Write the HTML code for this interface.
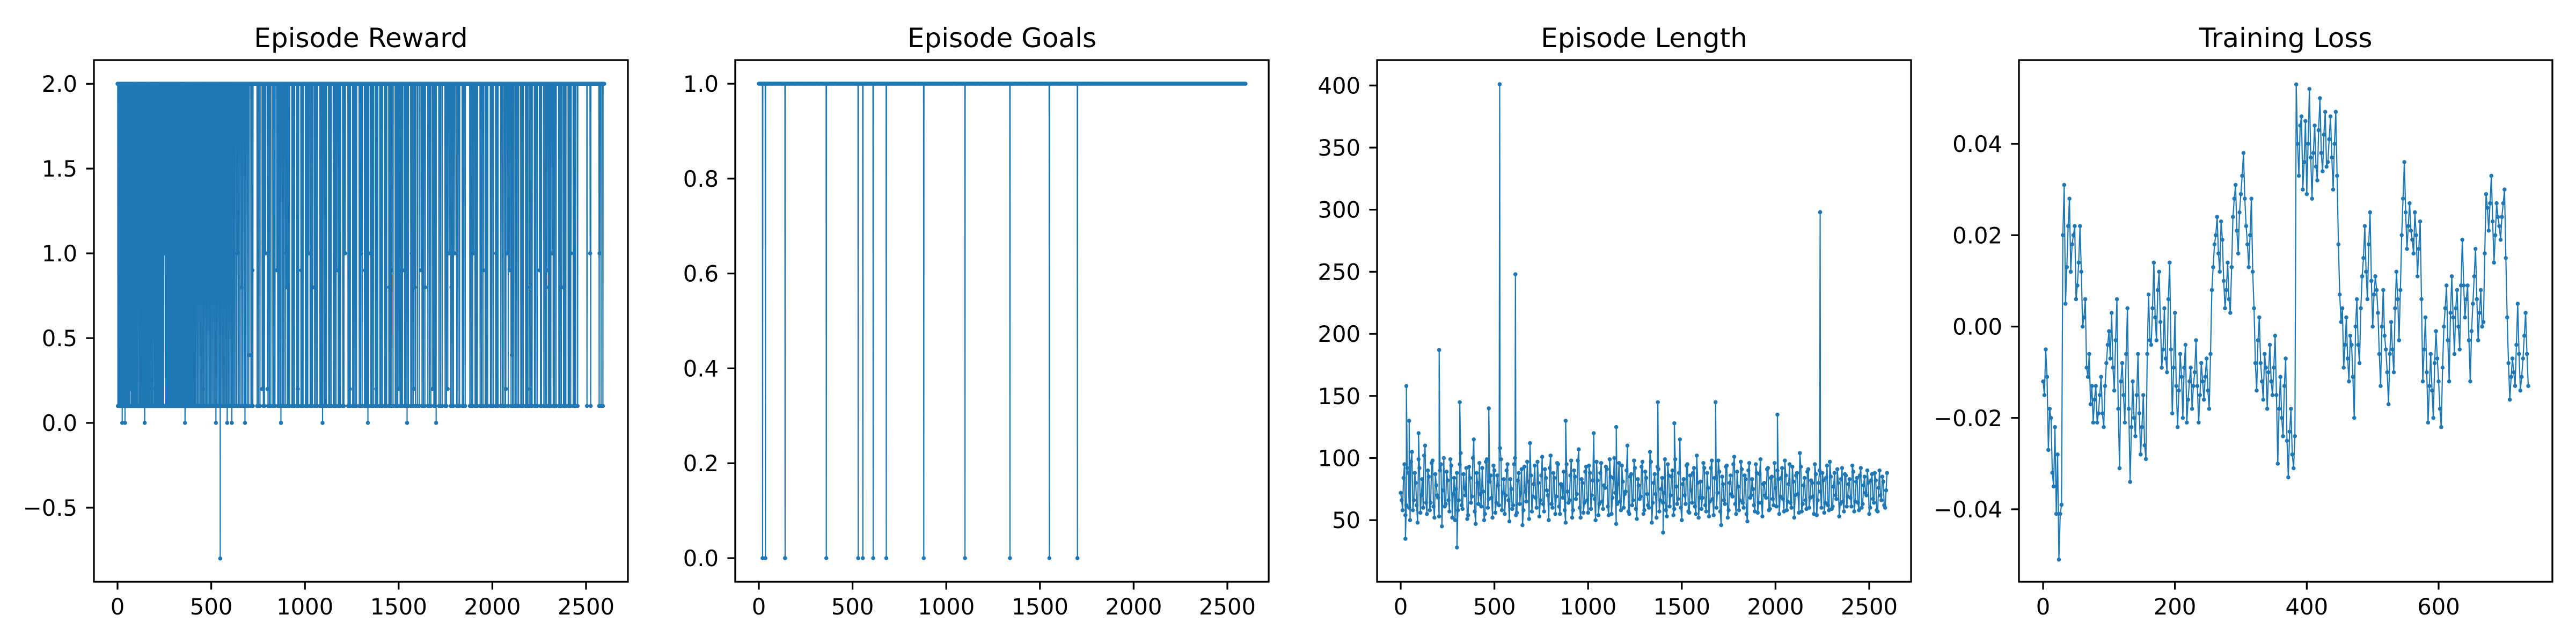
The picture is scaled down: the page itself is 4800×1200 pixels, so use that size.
<!DOCTYPE html>
<html><head><meta charset="utf-8"><style>
html,body{margin:0;padding:0;background:#fff;}
svg{display:block;}
text{font-family:"DejaVu Sans","Liberation Sans",sans-serif;fill:#000;}
</style></head><body>
<svg id="fig" width="4800" height="1200" viewBox="0 0 4800 1200" xmlns="http://www.w3.org/2000/svg"></svg>
<script>
// ===== Data =====
const rewardEpisodes = 2598;
const rewardDips = [2,7,11,15,19,22,27,31,34,38,42,46,50,54,57,61,65,70,73,77,81,86,90,94,97,101,106,110,113,117,121,125,129,133,137,140,144,148,152,156,160,163,167,171,175,179,183,187,190,194,198,202,207,211,215,219,224,228,232,237,241,246,250,255,260,265,270,274,279,284,289,293,298,303,308,313,318,322,327,331,336,341,346,351,356,361,366,372,378,384,390,396,402,408,414,420,427,434,441,448,455,461,468,475,482,489,495,502,509,516,523,530,537,544,551,558,565,572,579,586,593,600,607,614,621,628,636,644,652,660,668,676,684,692,700,712,722,745,760,778,790,803,818,829,840,855,868,880,895,906,918,931,944,957,966,979,990,1003,1015,1028,1040,1052,1066,1080,1090,1102,1115,1127,1140,1152,1166,1178,1190,1202,1215,1230,1242,1255,1268,1275,1290,1305,1318,1330,1340,1352,1365,1376,1388,1400,1413,1425,1436,1448,1460,1470,1482,1495,1508,1520,1532,1545,1552,1565,1578,1590,1610,1625,1640,1656,1672,1688,1700,1715,1732,1748,1762,1778,1792,1810,1825,1840,1855,1880,1895,1908,1920,1935,1950,1962,1975,1990,2005,2018,2030,2045,2062,2070,2085,2100,2108,2115,2125,2140,2152,2165,2178,2190,2200,2212,2225,2240,2252,2262,2275,2290,2300,2312,2325,2340,2355,2368,2380,2392,2405,2418,2432,2445,2455,2505,2525,2570,2580,2590];
const rewardDips2 = [717,752,784,810,834,861,887,912,937,961,984,1009,1034,1059,1085,1108,1133,1159,1184,1208,1236,1261,1297,1324,1358,1382,1406,1430,1454,1488,1514,1538,1571,1600,1632,1664,1694,1723,1755,1785,1817,1847,1887,1914,1942,1968,1997,2024,2053,2092,2132,2158,2184,2206,2232,2257,2282,2306,2332,2361,2386,2411,2438];
const rewardSpecialEp = [25,40,145,360,525,548,585,610,680,872,1094,1336,1545,1700, 45,110,250,340,400,470,640,790,900,1020,1215,1300,1350,1570,1770,1800,1900,2020,2080,2320,2420,2522,2572, 120,180,562,720,850,980,1170,1320,1462,1530,1620,1692,1952,2092,2252,2292, 70,150,200,404,458,772,800,962,1240,1380,1502,1582,1682,1762,2072,2188, 75,338,602,662,902,1050,1450,1586,1642,1782,2202,2288,2378, 702,2104,190];
const rewardSpecialVal = [0,0,0,0,0,-0.8,0,0,0,0,0,0,0,0, 1,1,1,1,1,1,1,1,1,1,1,1,1,1,1,1,1,1,1,1,1,1,1, 0.9,0.9,0.9,0.9,0.9,0.9,0.9,0.9,0.9,0.9,0.9,0.9,0.9,0.9,0.9,0.9, 0.2,0.2,0.2,0.2,0.2,0.2,0.2,0.2,0.2,0.2,0.2,0.2,0.2,0.2,0.2,0.2, 0.8,0.8,0.8,0.8,0.8,0.8,0.8,0.8,0.8,0.8,0.8,0.8,0.8, 0.4,0.4,0.5];
const goalEpisodes = 2598;
const goalZeros = [20,35,140,360,530,555,610,680,880,1100,1340,1550,1700];
const lengthStep = 10;
const lengthValues = [72,58,95,62,88,50,105,66,80,48,92,70,60,110,55,85,64,98,52,78,
68,90,45,100,63,82,57,94,71,50,88,66,104,59,76,92,54,84,69,115,
47,80,96,61,73,55,99,67,86,52,90,64,78,108,58,83,70,95,49,75,
62,100,56,88,72,46,93,65,81,112,57,79,68,97,53,86,63,91,74,50,
102,60,84,69,95,55,77,89,48,73,66,98,58,85,71,107,52,80,64,93,
56,88,70,120,50,82,63,96,59,76,91,54,85,68,100,47,79,65,94,60,
73,110,55,87,66,92,51,78,69,97,58,84,62,105,48,80,71,93,57,75,
64,99,53,86,70,90,59,77,67,115,50,83,63,95,56,74,88,61,102,52,
81,68,92,57,76,65,98,54,84,72,89,46,79,63,94,58,86,69,101,55,
77,66,91,60,83,49,96,70,75,57,88,64,99,53,80,68,92,59,85,62,
76,90,55,84,67,98,58,79,64,93,52,86,71,104,57,78,66,89,60,82,
69,95,54,80,73,88,56,84,62,97,59,77,70,91,53,83,65,87,61,79,
68,94,57,81,64,86,60,78,72,90,55,82,67,88,58,76,70,85,62,74];
const lengthValuesMid = [66,84,54,92,60,97,58,88,62,99,56,83,102,64,90,58,96,61,87,70,
53,95,74,61,89,66,99,52,84,75,58,95,62,87,70,51,93,64,100,57,
88,63,71,92,50,97,60,81,68,94,56,86,62,99,72,55,90,66,83,59,
95,54,82,63,91,58,73,97,51,86,69,94,60,80,66,101,57,84,70,92,
63,88,55,96,61,79,68,58,95,64,86,52,90,67,98,60,83,56,89,66,
94,59,82,67,97,54,88,65,78,93,61,99,55,84,72,63,96,58,81,71,
90,57,85,62,98,59,83,67,93,55,89,71,60,97,64,87,52,91,66,84,
72,58,95,61,85,54,99,63,88,60,79,70,94,57,86,64,92,55,80,68,
59,96,62,88,53,92,67,84,60,98,57,85,66,93,52,80,71,95,63,89,
58,97,64,86,55,90,68,83,62,95,56,87,64,79,70,91,58,84,67,96,
61,83,69,92,57,86,65,95,60,81,70,88,56,93,63,84,59,91,68,80,
55,87,66,90,60,82,64,94,58,85,61,88,67,80,63,92,57,86,69,83,
61,89,65,84,58,92,63,85,70,80,60,87,64,82,57,90,66,81,60,88];
const lengthSpikeEp = [25,30,45,95,205,300,315,470,528,612,880,1150,1372,1400,1460,1680,2010,2238];
const lengthSpikeVal = [35,158,130,120,187,28,145,140,401,248,130,125,145,40,128,145,135,298];
const lossStep = 4;
const lossValues = [-0.012,-0.005,-0.027,-0.02,-0.035,-0.041,-0.051,-0.039,0.031,0.013,0.028,0.018,0.022,0.009,0.022,0.0,0.006,-0.011,-0.017,-0.021,
-0.013,-0.019,-0.011,-0.022,-0.008,-0.001,0.003,-0.014,0.006,-0.031,-0.008,-0.021,0.004,-0.034,-0.012,-0.024,-0.006,-0.028,-0.015,-0.029,
0.007,-0.004,0.014,-0.003,0.012,-0.009,0.004,-0.01,0.014,-0.019,0.003,-0.022,-0.006,-0.02,-0.004,-0.016,-0.009,-0.013,-0.003,-0.021,
-0.008,-0.016,-0.007,-0.018,0.008,0.018,0.024,0.012,0.019,0.004,0.014,0.003,0.024,0.031,0.016,0.029,0.038,0.022,0.013,0.028,
0.004,-0.014,0.002,-0.012,-0.006,-0.018,-0.004,-0.015,-0.002,-0.03,-0.011,-0.024,-0.007,-0.033,-0.018,-0.031,0.053,0.033,0.046,0.036,
0.029,0.052,0.028,0.044,0.032,0.05,0.034,0.047,0.036,0.046,0.03,0.047,0.018,0.001,-0.009,0.002,-0.012,-0.004,-0.02,0.006,
-0.008,0.011,0.022,0.006,0.025,0.0,0.011,0.003,-0.013,0.008,-0.005,-0.017,0.001,-0.01,0.012,-0.003,0.02,0.036,0.017,0.027,
0.019,0.025,0.011,0.023,-0.012,0.002,-0.021,-0.006,-0.02,-0.001,-0.012,-0.022,0.0,0.009,-0.012,0.011,-0.006,0.008,-0.005,0.019,
0.002,0.009,-0.012,0.005,0.017,-0.003,0.008,0.001,0.029,0.021,0.033,0.014,0.027,0.022,0.024,0.03,0.002,-0.016,-0.007,-0.013,
0.005,-0.014,-0.007,0.003,-0.013];
const lossValuesMid = [-0.015,-0.011,-0.018,-0.032,-0.022,-0.028,-0.041,0.02,0.005,0.022,0.012,0.02,0.006,0.014,0.012,0.002,-0.009,-0.006,-0.013,-0.016,
-0.021,-0.015,-0.019,-0.013,-0.004,-0.007,-0.009,-0.003,-0.018,-0.012,-0.015,-0.006,-0.018,-0.022,-0.02,-0.015,-0.019,-0.022,-0.026,-0.006,
-0.003,0.004,0.002,0.008,0.001,-0.005,-0.007,0.006,-0.005,-0.009,-0.013,-0.014,-0.011,-0.009,-0.021,-0.012,-0.018,-0.01,-0.013,-0.015,
-0.012,-0.011,-0.014,-0.006,0.013,0.02,0.016,0.023,0.01,0.008,0.006,0.013,0.028,0.021,0.025,0.033,0.028,0.018,0.02,0.012,
-0.008,-0.003,-0.008,-0.016,-0.009,-0.01,-0.012,-0.009,-0.015,-0.018,-0.02,-0.013,-0.025,-0.023,-0.028,-0.024,0.04,0.044,0.03,0.045,
0.04,0.037,0.038,0.035,0.043,0.038,0.042,0.035,0.041,0.037,0.04,0.033,0.007,0.004,-0.004,-0.007,-0.002,-0.011,0.0,-0.004,
0.004,0.015,0.012,0.018,0.01,0.007,0.008,-0.006,0.0,-0.002,-0.01,-0.006,-0.005,0.004,0.006,0.008,0.028,0.025,0.022,0.021,
0.016,0.02,0.017,0.006,-0.005,-0.01,-0.013,-0.014,-0.008,-0.007,-0.018,-0.009,0.004,-0.003,0.003,0.002,0.004,0.0,0.009,0.009,
0.006,-0.003,-0.001,0.011,0.006,0.003,0.0,0.016,0.026,0.027,0.023,0.02,0.024,0.019,0.027,0.015,-0.008,-0.011,-0.01,-0.004,
-0.006,-0.011,-0.002,-0.006];
const xTicksEp = [0,500,1000,1500,2000,2500];
const xTicksLoss = [0,200,400,600];
const yTicksReward = [-0.5,0.0,0.5,1.0,1.5,2.0];
const yTicksGoals = [0.0,0.2,0.4,0.6,0.8,1.0];
const yTicksLength = [50,100,150,200,250,300,350,400];
const yTicksLoss = [-0.04,-0.02,0.0,0.02,0.04];
const titles = ["Episode Reward","Episode Goals","Episode Length","Training Loss"];

// ===== Build series =====
function buildReward(){
  const v = new Array(rewardEpisodes).fill(2.0);
  rewardDips.forEach(e=>{ if(e<rewardEpisodes) v[e]=0.1; });
  rewardDips2.forEach(e=>{ if(e<rewardEpisodes) v[e]=0.1; });
  rewardSpecialEp.forEach((e,i)=>{ if(e<rewardEpisodes) v[e]=rewardSpecialVal[i]; });
  return v.map((y,i)=>[i,y]);
}
function buildGoals(){
  const v = new Array(goalEpisodes).fill(1);
  goalZeros.forEach(e=>{ v[e]=0; });
  return v.map((y,i)=>[i,y]);
}
function buildLength(){
  const pts = lengthValues.map((y,i)=>[i*lengthStep,y]);
  lengthValuesMid.forEach((y,i)=>pts.push([i*lengthStep+lengthStep/2+0.1,y]));
  lengthSpikeEp.forEach((e,i)=>pts.push([e+0.2,lengthSpikeVal[i]]));
  pts.sort((a,b)=>a[0]-b[0]);
  return pts;
}
function buildLoss(){
  const pts = lossValues.map((y,i)=>[i*lossStep,y]);
  lossValuesMid.forEach((y,i)=>pts.push([i*lossStep+lossStep/2,y]));
  pts.sort((a,b)=>a[0]-b[0]);
  return pts;
}

// ===== Axes geometry =====
const TOP=112, BOT=1084;
const NS="http://www.w3.org/2000/svg";
const svg=document.getElementById('fig');
function el(tag,attrs,parent){const e=document.createElementNS(NS,tag);for(const k in attrs)e.setAttribute(k,attrs[k]);(parent||svg).appendChild(e);return e;}
function lin(v0,p0,v1,p1){const s=(p1-p0)/(v1-v0);return v=>p0+(v-v0)*s;}

const panels=[
 {name:'episode-reward',L:175,R:1170,x:lin(0,219,2500,1092),y:lin(0,788,2,156.2),data:buildReward(),xt:xTicksEp,yt:yTicksReward,yfmt:v=>v.toFixed(1)},
 {name:'episode-goals',L:1370,R:2364,x:lin(0,1414,2500,2287),y:lin(0,1040,1,156),data:buildGoals(),xt:xTicksEp,yt:yTicksGoals,yfmt:v=>v.toFixed(1)},
 {name:'episode-length',L:2566,R:3561,x:lin(0,2610,2500,3483),y:lin(400,159.3,350,275),data:buildLength(),xt:xTicksEp,yt:yTicksLength,yfmt:v=>String(v)},
 {name:'training-loss',L:3762,R:4756,x:lin(0,3807,600,4544),y:lin(0.04,268,-0.04,949),data:buildLoss(),xt:xTicksLoss,yt:yTicksLoss,yfmt:v=>v.toFixed(2)}
];
const C='#1f77b4';
panels.forEach((p,pi)=>{
  const g=el('g',{});
  
  
  const t=el('text',{x:(p.L+p.R)/2,y:88,'text-anchor':'middle','font-size':50},g);
  t.textContent=titles[pi];
  
  
  const cp=el('clipPath',{id:'cp'+pi},g);
  el('rect',{x:p.L,y:TOP,width:p.R-p.L,height:BOT-TOP},cp);
  const sg=el('g',{'clip-path':'url(#cp'+pi+')'},g);
  
  
  const d=p.data.map((q,i)=>(i?'L':'M')+p.x(q[0]).toFixed(2)+' '+p.y(q[1]).toFixed(2)).join('');
  const line=el('path',{d:d,fill:'none',stroke:C,'stroke-width':2.2,'stroke-linejoin':'round'},sg);
  
  
  let md='';
  p.data.forEach(q=>{const X=p.x(q[0]),Y=p.y(q[1]);md+='M'+(X-3.8).toFixed(2)+' '+Y.toFixed(2)+'a3.8 3.8 0 1 0 7.6 0a3.8 3.8 0 1 0 -7.6 0';});
  const mk=el('path',{d:md,fill:C,stroke:'none'},sg);
  
  
  const fr=el('rect',{x:p.L,y:TOP,width:p.R-p.L,height:BOT-TOP,fill:'none',stroke:'#000','stroke-width':3.3},g);
  
  
  p.xt.forEach(v=>{
    const X=p.x(v);
    const tk=el('line',{x1:X,x2:X,y1:BOT,y2:BOT+14.6,stroke:'#000','stroke-width':3.3},g);
    
    
    const tl=el('text',{x:X,y:1145,'text-anchor':'middle','font-size':41.7},g);
    tl.textContent=String(v);
    
    
  });
  p.yt.forEach(v=>{
    const Y=p.y(v);
    const tk=el('line',{x1:p.L-14.6,x2:p.L,y1:Y,y2:Y,stroke:'#000','stroke-width':3.3},g);
    
    
    const tl=el('text',{x:p.L-31,y:Y+15,'text-anchor':'end','font-size':41.7},g);
    tl.textContent=p.yfmt(v).replace('-','\u2212');
    
    
  });
});
</script>
</body></html>
